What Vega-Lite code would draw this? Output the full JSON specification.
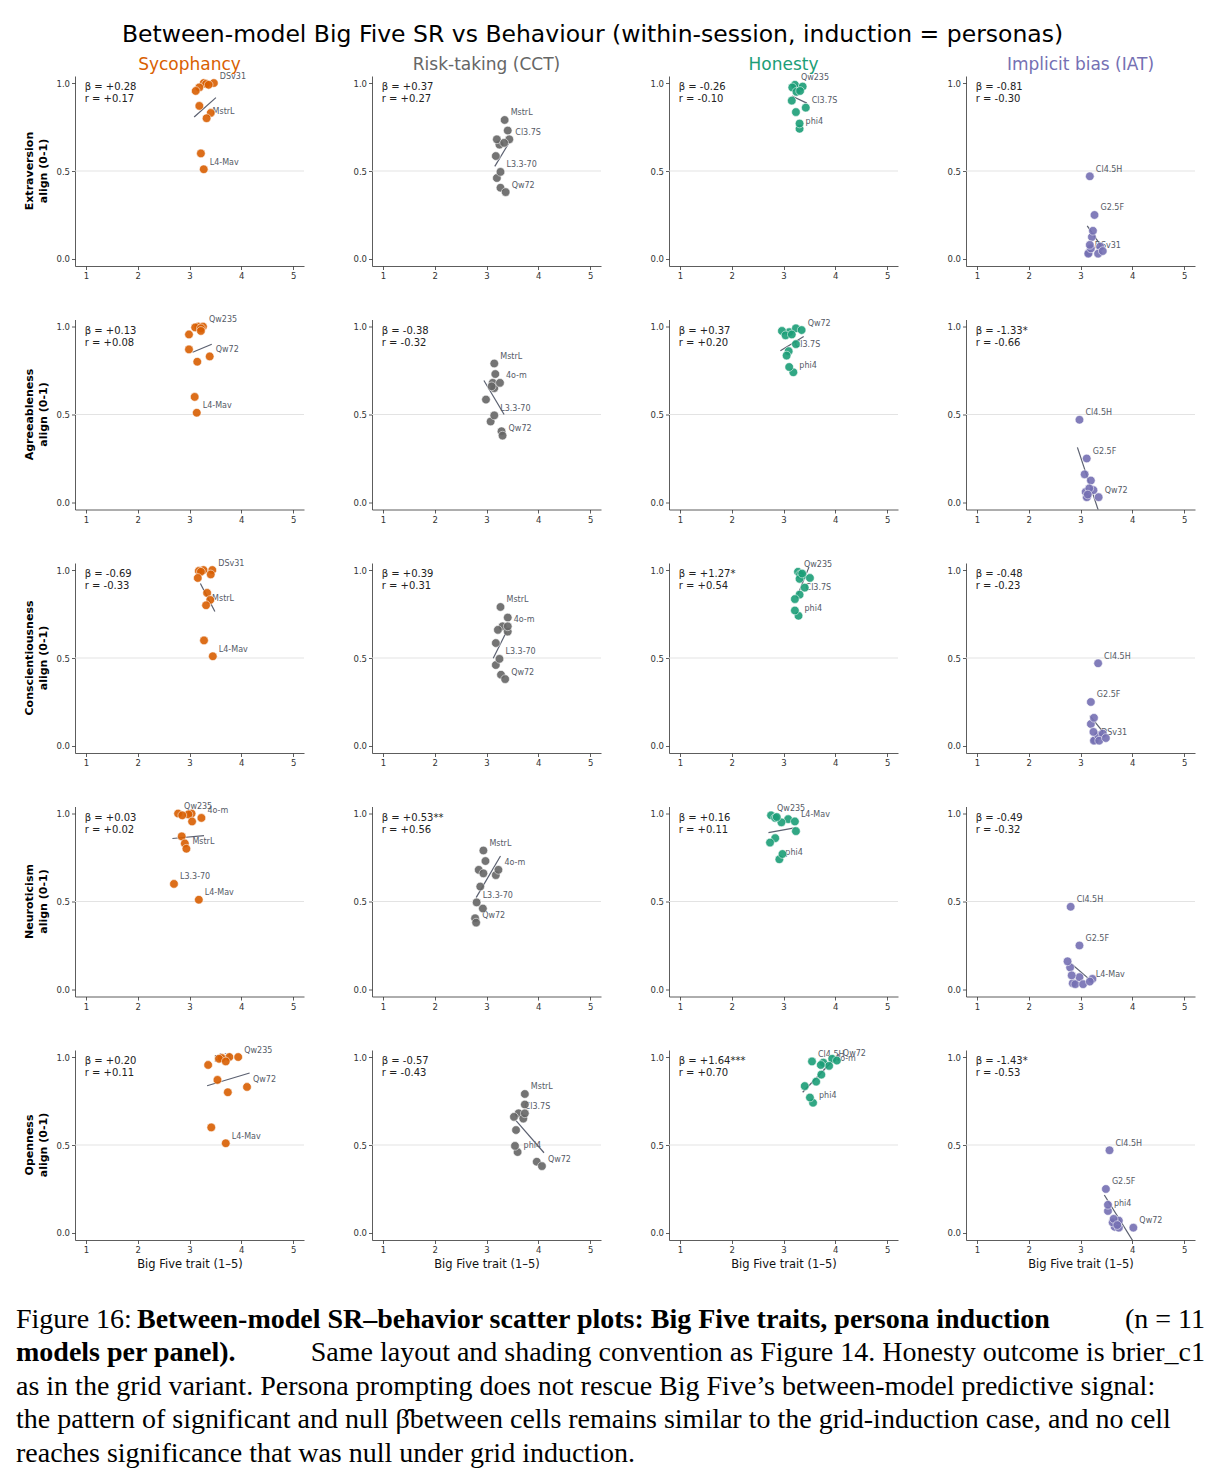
{
"$schema": "https://vega.github.io/schema/vega-lite/v6.json",
"background": "white",
"padding": {"left": 16, "top": 22, "right": 4, "bottom": 4},
"title": {"text": "Between-model Big Five SR vs Behaviour (within-session, induction = personas)", "fontSize": 23.5, "font": "DejaVu Sans", "fontWeight": "normal", "color": "#000000", "anchor": "middle", "dx": -18, "offset": 10},
"config": {
 "font": "DejaVu Sans",
 "view": {"stroke": null},
 "axis": {"domainColor": "#333333", "tickColor": "#333333", "labelColor": "#333333", "tickSize": 3.5, "labelFontSize": 8.5, "labelPadding": 2, "grid": false, "domainWidth": 0.8, "tickWidth": 0.8, "titleFontWeight": "normal", "titleFontSize": 11.5, "titleColor": "#111111", "titlePadding": 4, "labelFont": "DejaVu Sans", "titleFont": "DejaVu Sans"}
},
"spacing": 35.5,
"data": {"values": [
{"t":"Extraversion","o":"Sycophancy","k":"p","m":"DSv31","x":3.47,"y":1.0,"lab":"DSv31"},
{"t":"Extraversion","o":"Sycophancy","k":"p","m":"Qw235","x":3.275,"y":1.0,"lab":""},
{"t":"Extraversion","o":"Sycophancy","k":"p","m":"Cl3.7S","x":3.32,"y":0.995,"lab":""},
{"t":"Extraversion","o":"Sycophancy","k":"p","m":"Cl4.5H","x":3.37,"y":0.99,"lab":""},
{"t":"Extraversion","o":"Sycophancy","k":"p","m":"4o-m","x":3.19,"y":0.975,"lab":""},
{"t":"Extraversion","o":"Sycophancy","k":"p","m":"phi4","x":3.12,"y":0.955,"lab":""},
{"t":"Extraversion","o":"Sycophancy","k":"p","m":"G2.5F","x":3.19,"y":0.87,"lab":""},
{"t":"Extraversion","o":"Sycophancy","k":"p","m":"Qw72","x":3.41,"y":0.83,"lab":""},
{"t":"Extraversion","o":"Sycophancy","k":"p","m":"MstrL","x":3.33,"y":0.80,"lab":"MstrL"},
{"t":"Extraversion","o":"Sycophancy","k":"p","m":"L3.3-70","x":3.22,"y":0.60,"lab":""},
{"t":"Extraversion","o":"Sycophancy","k":"p","m":"L4-Mav","x":3.275,"y":0.51,"lab":"L4-Mav"},
{"t":"Extraversion","o":"Risk-taking (CCT)","k":"p","m":"DSv31","x":3.41,"y":0.73,"lab":""},
{"t":"Extraversion","o":"Risk-taking (CCT)","k":"p","m":"Qw235","x":3.27,"y":0.405,"lab":""},
{"t":"Extraversion","o":"Risk-taking (CCT)","k":"p","m":"Cl3.7S","x":3.44,"y":0.68,"lab":"Cl3.7S"},
{"t":"Extraversion","o":"Risk-taking (CCT)","k":"p","m":"Cl4.5H","x":3.25,"y":0.65,"lab":""},
{"t":"Extraversion","o":"Risk-taking (CCT)","k":"p","m":"4o-m","x":3.20,"y":0.68,"lab":""},
{"t":"Extraversion","o":"Risk-taking (CCT)","k":"p","m":"phi4","x":3.20,"y":0.46,"lab":""},
{"t":"Extraversion","o":"Risk-taking (CCT)","k":"p","m":"G2.5F","x":3.34,"y":0.66,"lab":""},
{"t":"Extraversion","o":"Risk-taking (CCT)","k":"p","m":"Qw72","x":3.37,"y":0.38,"lab":"Qw72"},
{"t":"Extraversion","o":"Risk-taking (CCT)","k":"p","m":"MstrL","x":3.35,"y":0.79,"lab":"MstrL"},
{"t":"Extraversion","o":"Risk-taking (CCT)","k":"p","m":"L3.3-70","x":3.27,"y":0.495,"lab":"L3.3-70"},
{"t":"Extraversion","o":"Risk-taking (CCT)","k":"p","m":"L4-Mav","x":3.18,"y":0.585,"lab":""},
{"t":"Extraversion","o":"Honesty","k":"p","m":"DSv31","x":3.29,"y":0.968,"lab":""},
{"t":"Extraversion","o":"Honesty","k":"p","m":"Qw235","x":3.22,"y":0.99,"lab":"Qw235"},
{"t":"Extraversion","o":"Honesty","k":"p","m":"Cl3.7S","x":3.43,"y":0.86,"lab":"Cl3.7S"},
{"t":"Extraversion","o":"Honesty","k":"p","m":"Cl4.5H","x":3.17,"y":0.975,"lab":""},
{"t":"Extraversion","o":"Honesty","k":"p","m":"4o-m","x":3.25,"y":0.95,"lab":""},
{"t":"Extraversion","o":"Honesty","k":"p","m":"phi4","x":3.31,"y":0.74,"lab":"phi4"},
{"t":"Extraversion","o":"Honesty","k":"p","m":"G2.5F","x":3.16,"y":0.90,"lab":""},
{"t":"Extraversion","o":"Honesty","k":"p","m":"Qw72","x":3.37,"y":0.98,"lab":""},
{"t":"Extraversion","o":"Honesty","k":"p","m":"MstrL","x":3.24,"y":0.835,"lab":""},
{"t":"Extraversion","o":"Honesty","k":"p","m":"L3.3-70","x":3.31,"y":0.77,"lab":""},
{"t":"Extraversion","o":"Honesty","k":"p","m":"L4-Mav","x":3.32,"y":0.955,"lab":""},
{"t":"Extraversion","o":"Implicit bias (IAT)","k":"p","m":"DSv31","x":3.16,"y":0.035,"lab":"DSv31"},
{"t":"Extraversion","o":"Implicit bias (IAT)","k":"p","m":"Qw235","x":3.15,"y":0.03,"lab":""},
{"t":"Extraversion","o":"Implicit bias (IAT)","k":"p","m":"Cl3.7S","x":3.20,"y":0.06,"lab":""},
{"t":"Extraversion","o":"Implicit bias (IAT)","k":"p","m":"Cl4.5H","x":3.18,"y":0.47,"lab":"Cl4.5H"},
{"t":"Extraversion","o":"Implicit bias (IAT)","k":"p","m":"4o-m","x":3.38,"y":0.07,"lab":""},
{"t":"Extraversion","o":"Implicit bias (IAT)","k":"p","m":"phi4","x":3.22,"y":0.125,"lab":""},
{"t":"Extraversion","o":"Implicit bias (IAT)","k":"p","m":"G2.5F","x":3.27,"y":0.25,"lab":"G2.5F"},
{"t":"Extraversion","o":"Implicit bias (IAT)","k":"p","m":"Qw72","x":3.34,"y":0.03,"lab":""},
{"t":"Extraversion","o":"Implicit bias (IAT)","k":"p","m":"MstrL","x":3.18,"y":0.08,"lab":""},
{"t":"Extraversion","o":"Implicit bias (IAT)","k":"p","m":"L3.3-70","x":3.24,"y":0.16,"lab":""},
{"t":"Extraversion","o":"Implicit bias (IAT)","k":"p","m":"L4-Mav","x":3.43,"y":0.045,"lab":""},

{"t":"Agreeableness","o":"Sycophancy","k":"p","m":"DSv31","x":3.17,"y":1.0,"lab":""},
{"t":"Agreeableness","o":"Sycophancy","k":"p","m":"Qw235","x":3.26,"y":1.0,"lab":"Qw235"},
{"t":"Agreeableness","o":"Sycophancy","k":"p","m":"Cl3.7S","x":3.11,"y":0.995,"lab":""},
{"t":"Agreeableness","o":"Sycophancy","k":"p","m":"Cl4.5H","x":3.22,"y":0.99,"lab":""},
{"t":"Agreeableness","o":"Sycophancy","k":"p","m":"4o-m","x":3.22,"y":0.975,"lab":""},
{"t":"Agreeableness","o":"Sycophancy","k":"p","m":"phi4","x":2.99,"y":0.955,"lab":""},
{"t":"Agreeableness","o":"Sycophancy","k":"p","m":"G2.5F","x":2.99,"y":0.87,"lab":""},
{"t":"Agreeableness","o":"Sycophancy","k":"p","m":"Qw72","x":3.39,"y":0.83,"lab":"Qw72"},
{"t":"Agreeableness","o":"Sycophancy","k":"p","m":"MstrL","x":3.15,"y":0.80,"lab":""},
{"t":"Agreeableness","o":"Sycophancy","k":"p","m":"L3.3-70","x":3.10,"y":0.60,"lab":""},
{"t":"Agreeableness","o":"Sycophancy","k":"p","m":"L4-Mav","x":3.14,"y":0.51,"lab":"L4-Mav"},
{"t":"Agreeableness","o":"Risk-taking (CCT)","k":"p","m":"DSv31","x":3.17,"y":0.73,"lab":""},
{"t":"Agreeableness","o":"Risk-taking (CCT)","k":"p","m":"Qw235","x":3.29,"y":0.405,"lab":""},
{"t":"Agreeableness","o":"Risk-taking (CCT)","k":"p","m":"Cl3.7S","x":3.12,"y":0.68,"lab":""},
{"t":"Agreeableness","o":"Risk-taking (CCT)","k":"p","m":"Cl4.5H","x":3.15,"y":0.65,"lab":""},
{"t":"Agreeableness","o":"Risk-taking (CCT)","k":"p","m":"4o-m","x":3.26,"y":0.68,"lab":"4o-m"},
{"t":"Agreeableness","o":"Risk-taking (CCT)","k":"p","m":"phi4","x":3.08,"y":0.46,"lab":""},
{"t":"Agreeableness","o":"Risk-taking (CCT)","k":"p","m":"G2.5F","x":3.10,"y":0.66,"lab":""},
{"t":"Agreeableness","o":"Risk-taking (CCT)","k":"p","m":"Qw72","x":3.31,"y":0.38,"lab":"Qw72"},
{"t":"Agreeableness","o":"Risk-taking (CCT)","k":"p","m":"MstrL","x":3.15,"y":0.79,"lab":"MstrL"},
{"t":"Agreeableness","o":"Risk-taking (CCT)","k":"p","m":"L3.3-70","x":3.15,"y":0.495,"lab":"L3.3-70"},
{"t":"Agreeableness","o":"Risk-taking (CCT)","k":"p","m":"L4-Mav","x":2.99,"y":0.585,"lab":""},
{"t":"Agreeableness","o":"Honesty","k":"p","m":"DSv31","x":3.11,"y":0.968,"lab":""},
{"t":"Agreeableness","o":"Honesty","k":"p","m":"Qw235","x":3.24,"y":0.99,"lab":""},
{"t":"Agreeableness","o":"Honesty","k":"p","m":"Cl3.7S","x":3.10,"y":0.86,"lab":"Cl3.7S"},
{"t":"Agreeableness","o":"Honesty","k":"p","m":"Cl4.5H","x":2.97,"y":0.975,"lab":""},
{"t":"Agreeableness","o":"Honesty","k":"p","m":"4o-m","x":3.04,"y":0.95,"lab":""},
{"t":"Agreeableness","o":"Honesty","k":"p","m":"phi4","x":3.19,"y":0.74,"lab":"phi4"},
{"t":"Agreeableness","o":"Honesty","k":"p","m":"G2.5F","x":3.24,"y":0.90,"lab":""},
{"t":"Agreeableness","o":"Honesty","k":"p","m":"Qw72","x":3.35,"y":0.98,"lab":"Qw72"},
{"t":"Agreeableness","o":"Honesty","k":"p","m":"MstrL","x":3.06,"y":0.835,"lab":""},
{"t":"Agreeableness","o":"Honesty","k":"p","m":"L3.3-70","x":3.11,"y":0.77,"lab":""},
{"t":"Agreeableness","o":"Honesty","k":"p","m":"L4-Mav","x":3.16,"y":0.955,"lab":""},
{"t":"Agreeableness","o":"Implicit bias (IAT)","k":"p","m":"DSv31","x":3.13,"y":0.035,"lab":""},
{"t":"Agreeableness","o":"Implicit bias (IAT)","k":"p","m":"Qw235","x":3.12,"y":0.03,"lab":""},
{"t":"Agreeableness","o":"Implicit bias (IAT)","k":"p","m":"Cl3.7S","x":3.10,"y":0.06,"lab":""},
{"t":"Agreeableness","o":"Implicit bias (IAT)","k":"p","m":"Cl4.5H","x":2.98,"y":0.47,"lab":"Cl4.5H"},
{"t":"Agreeableness","o":"Implicit bias (IAT)","k":"p","m":"4o-m","x":3.25,"y":0.07,"lab":""},
{"t":"Agreeableness","o":"Implicit bias (IAT)","k":"p","m":"phi4","x":3.20,"y":0.125,"lab":""},
{"t":"Agreeableness","o":"Implicit bias (IAT)","k":"p","m":"G2.5F","x":3.12,"y":0.25,"lab":"G2.5F"},
{"t":"Agreeableness","o":"Implicit bias (IAT)","k":"p","m":"Qw72","x":3.35,"y":0.03,"lab":"Qw72"},
{"t":"Agreeableness","o":"Implicit bias (IAT)","k":"p","m":"MstrL","x":3.17,"y":0.08,"lab":""},
{"t":"Agreeableness","o":"Implicit bias (IAT)","k":"p","m":"L3.3-70","x":3.08,"y":0.16,"lab":""},
{"t":"Agreeableness","o":"Implicit bias (IAT)","k":"p","m":"L4-Mav","x":3.14,"y":0.045,"lab":""},

{"t":"Conscientiousness","o":"Sycophancy","k":"p","m":"DSv31","x":3.44,"y":1.0,"lab":"DSv31"},
{"t":"Conscientiousness","o":"Sycophancy","k":"p","m":"Qw235","x":3.27,"y":1.0,"lab":""},
{"t":"Conscientiousness","o":"Sycophancy","k":"p","m":"Cl3.7S","x":3.18,"y":0.995,"lab":""},
{"t":"Conscientiousness","o":"Sycophancy","k":"p","m":"Cl4.5H","x":3.22,"y":0.99,"lab":""},
{"t":"Conscientiousness","o":"Sycophancy","k":"p","m":"4o-m","x":3.41,"y":0.975,"lab":""},
{"t":"Conscientiousness","o":"Sycophancy","k":"p","m":"phi4","x":3.16,"y":0.955,"lab":""},
{"t":"Conscientiousness","o":"Sycophancy","k":"p","m":"G2.5F","x":3.34,"y":0.87,"lab":""},
{"t":"Conscientiousness","o":"Sycophancy","k":"p","m":"Qw72","x":3.40,"y":0.83,"lab":""},
{"t":"Conscientiousness","o":"Sycophancy","k":"p","m":"MstrL","x":3.32,"y":0.80,"lab":"MstrL"},
{"t":"Conscientiousness","o":"Sycophancy","k":"p","m":"L3.3-70","x":3.28,"y":0.60,"lab":""},
{"t":"Conscientiousness","o":"Sycophancy","k":"p","m":"L4-Mav","x":3.45,"y":0.51,"lab":"L4-Mav"},
{"t":"Conscientiousness","o":"Risk-taking (CCT)","k":"p","m":"DSv31","x":3.41,"y":0.73,"lab":""},
{"t":"Conscientiousness","o":"Risk-taking (CCT)","k":"p","m":"Qw235","x":3.28,"y":0.405,"lab":""},
{"t":"Conscientiousness","o":"Risk-taking (CCT)","k":"p","m":"Cl3.7S","x":3.31,"y":0.68,"lab":""},
{"t":"Conscientiousness","o":"Risk-taking (CCT)","k":"p","m":"Cl4.5H","x":3.41,"y":0.65,"lab":""},
{"t":"Conscientiousness","o":"Risk-taking (CCT)","k":"p","m":"4o-m","x":3.41,"y":0.68,"lab":"4o-m"},
{"t":"Conscientiousness","o":"Risk-taking (CCT)","k":"p","m":"phi4","x":3.18,"y":0.46,"lab":""},
{"t":"Conscientiousness","o":"Risk-taking (CCT)","k":"p","m":"G2.5F","x":3.22,"y":0.66,"lab":""},
{"t":"Conscientiousness","o":"Risk-taking (CCT)","k":"p","m":"Qw72","x":3.36,"y":0.38,"lab":"Qw72"},
{"t":"Conscientiousness","o":"Risk-taking (CCT)","k":"p","m":"MstrL","x":3.27,"y":0.79,"lab":"MstrL"},
{"t":"Conscientiousness","o":"Risk-taking (CCT)","k":"p","m":"L3.3-70","x":3.25,"y":0.495,"lab":"L3.3-70"},
{"t":"Conscientiousness","o":"Risk-taking (CCT)","k":"p","m":"L4-Mav","x":3.18,"y":0.585,"lab":""},
{"t":"Conscientiousness","o":"Honesty","k":"p","m":"DSv31","x":3.37,"y":0.968,"lab":""},
{"t":"Conscientiousness","o":"Honesty","k":"p","m":"Qw235","x":3.28,"y":0.99,"lab":"Qw235"},
{"t":"Conscientiousness","o":"Honesty","k":"p","m":"Cl3.7S","x":3.31,"y":0.86,"lab":"Cl3.7S"},
{"t":"Conscientiousness","o":"Honesty","k":"p","m":"Cl4.5H","x":3.32,"y":0.975,"lab":""},
{"t":"Conscientiousness","o":"Honesty","k":"p","m":"4o-m","x":3.31,"y":0.95,"lab":""},
{"t":"Conscientiousness","o":"Honesty","k":"p","m":"phi4","x":3.29,"y":0.74,"lab":"phi4"},
{"t":"Conscientiousness","o":"Honesty","k":"p","m":"G2.5F","x":3.41,"y":0.90,"lab":""},
{"t":"Conscientiousness","o":"Honesty","k":"p","m":"Qw72","x":3.36,"y":0.98,"lab":""},
{"t":"Conscientiousness","o":"Honesty","k":"p","m":"MstrL","x":3.22,"y":0.835,"lab":""},
{"t":"Conscientiousness","o":"Honesty","k":"p","m":"L3.3-70","x":3.22,"y":0.77,"lab":""},
{"t":"Conscientiousness","o":"Honesty","k":"p","m":"L4-Mav","x":3.51,"y":0.955,"lab":""},
{"t":"Conscientiousness","o":"Implicit bias (IAT)","k":"p","m":"DSv31","x":3.28,"y":0.035,"lab":"DSv31"},
{"t":"Conscientiousness","o":"Implicit bias (IAT)","k":"p","m":"Qw235","x":3.26,"y":0.03,"lab":""},
{"t":"Conscientiousness","o":"Implicit bias (IAT)","k":"p","m":"Cl3.7S","x":3.34,"y":0.06,"lab":""},
{"t":"Conscientiousness","o":"Implicit bias (IAT)","k":"p","m":"Cl4.5H","x":3.34,"y":0.47,"lab":"Cl4.5H"},
{"t":"Conscientiousness","o":"Implicit bias (IAT)","k":"p","m":"4o-m","x":3.43,"y":0.07,"lab":""},
{"t":"Conscientiousness","o":"Implicit bias (IAT)","k":"p","m":"phi4","x":3.20,"y":0.125,"lab":""},
{"t":"Conscientiousness","o":"Implicit bias (IAT)","k":"p","m":"G2.5F","x":3.20,"y":0.25,"lab":"G2.5F"},
{"t":"Conscientiousness","o":"Implicit bias (IAT)","k":"p","m":"Qw72","x":3.36,"y":0.03,"lab":""},
{"t":"Conscientiousness","o":"Implicit bias (IAT)","k":"p","m":"MstrL","x":3.25,"y":0.08,"lab":""},
{"t":"Conscientiousness","o":"Implicit bias (IAT)","k":"p","m":"L3.3-70","x":3.26,"y":0.16,"lab":""},
{"t":"Conscientiousness","o":"Implicit bias (IAT)","k":"p","m":"L4-Mav","x":3.49,"y":0.045,"lab":""},

{"t":"Neuroticism","o":"Sycophancy","k":"p","m":"DSv31","x":3.04,"y":1.0,"lab":""},
{"t":"Neuroticism","o":"Sycophancy","k":"p","m":"Qw235","x":2.78,"y":1.0,"lab":"Qw235"},
{"t":"Neuroticism","o":"Sycophancy","k":"p","m":"Cl3.7S","x":2.98,"y":0.995,"lab":""},
{"t":"Neuroticism","o":"Sycophancy","k":"p","m":"Cl4.5H","x":2.86,"y":0.99,"lab":""},
{"t":"Neuroticism","o":"Sycophancy","k":"p","m":"4o-m","x":3.23,"y":0.975,"lab":"4o-m"},
{"t":"Neuroticism","o":"Sycophancy","k":"p","m":"phi4","x":3.05,"y":0.955,"lab":""},
{"t":"Neuroticism","o":"Sycophancy","k":"p","m":"G2.5F","x":2.85,"y":0.87,"lab":""},
{"t":"Neuroticism","o":"Sycophancy","k":"p","m":"Qw72","x":2.91,"y":0.83,"lab":""},
{"t":"Neuroticism","o":"Sycophancy","k":"p","m":"MstrL","x":2.94,"y":0.80,"lab":"MstrL"},
{"t":"Neuroticism","o":"Sycophancy","k":"p","m":"L3.3-70","x":2.70,"y":0.60,"lab":"L3.3-70"},
{"t":"Neuroticism","o":"Sycophancy","k":"p","m":"L4-Mav","x":3.18,"y":0.51,"lab":"L4-Mav"},
{"t":"Neuroticism","o":"Risk-taking (CCT)","k":"p","m":"DSv31","x":2.98,"y":0.73,"lab":""},
{"t":"Neuroticism","o":"Risk-taking (CCT)","k":"p","m":"Qw235","x":2.78,"y":0.405,"lab":""},
{"t":"Neuroticism","o":"Risk-taking (CCT)","k":"p","m":"Cl3.7S","x":2.85,"y":0.68,"lab":""},
{"t":"Neuroticism","o":"Risk-taking (CCT)","k":"p","m":"Cl4.5H","x":3.18,"y":0.65,"lab":""},
{"t":"Neuroticism","o":"Risk-taking (CCT)","k":"p","m":"4o-m","x":3.23,"y":0.68,"lab":"4o-m"},
{"t":"Neuroticism","o":"Risk-taking (CCT)","k":"p","m":"phi4","x":2.93,"y":0.46,"lab":""},
{"t":"Neuroticism","o":"Risk-taking (CCT)","k":"p","m":"G2.5F","x":2.94,"y":0.66,"lab":""},
{"t":"Neuroticism","o":"Risk-taking (CCT)","k":"p","m":"Qw72","x":2.80,"y":0.38,"lab":"Qw72"},
{"t":"Neuroticism","o":"Risk-taking (CCT)","k":"p","m":"MstrL","x":2.94,"y":0.79,"lab":"MstrL"},
{"t":"Neuroticism","o":"Risk-taking (CCT)","k":"p","m":"L3.3-70","x":2.81,"y":0.495,"lab":"L3.3-70"},
{"t":"Neuroticism","o":"Risk-taking (CCT)","k":"p","m":"L4-Mav","x":2.88,"y":0.585,"lab":""},
{"t":"Neuroticism","o":"Honesty","k":"p","m":"DSv31","x":3.09,"y":0.968,"lab":""},
{"t":"Neuroticism","o":"Honesty","k":"p","m":"Qw235","x":2.76,"y":0.99,"lab":"Qw235"},
{"t":"Neuroticism","o":"Honesty","k":"p","m":"Cl3.7S","x":2.84,"y":0.86,"lab":""},
{"t":"Neuroticism","o":"Honesty","k":"p","m":"Cl4.5H","x":2.84,"y":0.975,"lab":""},
{"t":"Neuroticism","o":"Honesty","k":"p","m":"4o-m","x":2.96,"y":0.95,"lab":""},
{"t":"Neuroticism","o":"Honesty","k":"p","m":"phi4","x":2.92,"y":0.74,"lab":"phi4"},
{"t":"Neuroticism","o":"Honesty","k":"p","m":"G2.5F","x":3.24,"y":0.90,"lab":""},
{"t":"Neuroticism","o":"Honesty","k":"p","m":"Qw72","x":2.87,"y":0.98,"lab":""},
{"t":"Neuroticism","o":"Honesty","k":"p","m":"MstrL","x":2.74,"y":0.835,"lab":""},
{"t":"Neuroticism","o":"Honesty","k":"p","m":"L3.3-70","x":2.98,"y":0.77,"lab":""},
{"t":"Neuroticism","o":"Honesty","k":"p","m":"L4-Mav","x":3.22,"y":0.955,"lab":"L4-Mav"},
{"t":"Neuroticism","o":"Implicit bias (IAT)","k":"p","m":"DSv31","x":2.85,"y":0.035,"lab":""},
{"t":"Neuroticism","o":"Implicit bias (IAT)","k":"p","m":"Qw235","x":2.90,"y":0.03,"lab":""},
{"t":"Neuroticism","o":"Implicit bias (IAT)","k":"p","m":"Cl3.7S","x":3.23,"y":0.06,"lab":""},
{"t":"Neuroticism","o":"Implicit bias (IAT)","k":"p","m":"Cl4.5H","x":2.81,"y":0.47,"lab":"Cl4.5H"},
{"t":"Neuroticism","o":"Implicit bias (IAT)","k":"p","m":"4o-m","x":2.98,"y":0.07,"lab":""},
{"t":"Neuroticism","o":"Implicit bias (IAT)","k":"p","m":"phi4","x":2.80,"y":0.125,"lab":""},
{"t":"Neuroticism","o":"Implicit bias (IAT)","k":"p","m":"G2.5F","x":2.98,"y":0.25,"lab":"G2.5F"},
{"t":"Neuroticism","o":"Implicit bias (IAT)","k":"p","m":"Qw72","x":3.05,"y":0.03,"lab":""},
{"t":"Neuroticism","o":"Implicit bias (IAT)","k":"p","m":"MstrL","x":2.83,"y":0.08,"lab":""},
{"t":"Neuroticism","o":"Implicit bias (IAT)","k":"p","m":"L3.3-70","x":2.75,"y":0.16,"lab":""},
{"t":"Neuroticism","o":"Implicit bias (IAT)","k":"p","m":"L4-Mav","x":3.18,"y":0.045,"lab":"L4-Mav"},

{"t":"Openness","o":"Sycophancy","k":"p","m":"DSv31","x":3.77,"y":1.0,"lab":""},
{"t":"Openness","o":"Sycophancy","k":"p","m":"Qw235","x":3.94,"y":1.0,"lab":"Qw235"},
{"t":"Openness","o":"Sycophancy","k":"p","m":"Cl3.7S","x":3.62,"y":0.995,"lab":""},
{"t":"Openness","o":"Sycophancy","k":"p","m":"Cl4.5H","x":3.57,"y":0.99,"lab":""},
{"t":"Openness","o":"Sycophancy","k":"p","m":"4o-m","x":3.70,"y":0.975,"lab":""},
{"t":"Openness","o":"Sycophancy","k":"p","m":"phi4","x":3.36,"y":0.955,"lab":"phi4"},
{"t":"Openness","o":"Sycophancy","k":"p","m":"G2.5F","x":3.54,"y":0.87,"lab":""},
{"t":"Openness","o":"Sycophancy","k":"p","m":"Qw72","x":4.11,"y":0.83,"lab":"Qw72"},
{"t":"Openness","o":"Sycophancy","k":"p","m":"MstrL","x":3.74,"y":0.80,"lab":""},
{"t":"Openness","o":"Sycophancy","k":"p","m":"L3.3-70","x":3.42,"y":0.60,"lab":""},
{"t":"Openness","o":"Sycophancy","k":"p","m":"L4-Mav","x":3.70,"y":0.51,"lab":"L4-Mav"},
{"t":"Openness","o":"Risk-taking (CCT)","k":"p","m":"DSv31","x":3.74,"y":0.73,"lab":""},
{"t":"Openness","o":"Risk-taking (CCT)","k":"p","m":"Qw235","x":3.97,"y":0.405,"lab":""},
{"t":"Openness","o":"Risk-taking (CCT)","k":"p","m":"Cl3.7S","x":3.62,"y":0.68,"lab":"Cl3.7S"},
{"t":"Openness","o":"Risk-taking (CCT)","k":"p","m":"Cl4.5H","x":3.71,"y":0.65,"lab":""},
{"t":"Openness","o":"Risk-taking (CCT)","k":"p","m":"4o-m","x":3.74,"y":0.68,"lab":""},
{"t":"Openness","o":"Risk-taking (CCT)","k":"p","m":"phi4","x":3.60,"y":0.46,"lab":"phi4"},
{"t":"Openness","o":"Risk-taking (CCT)","k":"p","m":"G2.5F","x":3.53,"y":0.66,"lab":""},
{"t":"Openness","o":"Risk-taking (CCT)","k":"p","m":"Qw72","x":4.07,"y":0.38,"lab":"Qw72"},
{"t":"Openness","o":"Risk-taking (CCT)","k":"p","m":"MstrL","x":3.74,"y":0.79,"lab":"MstrL"},
{"t":"Openness","o":"Risk-taking (CCT)","k":"p","m":"L3.3-70","x":3.55,"y":0.495,"lab":""},
{"t":"Openness","o":"Risk-taking (CCT)","k":"p","m":"L4-Mav","x":3.57,"y":0.585,"lab":""},
{"t":"Openness","o":"Honesty","k":"p","m":"DSv31","x":3.77,"y":0.968,"lab":""},
{"t":"Openness","o":"Honesty","k":"p","m":"Qw235","x":3.94,"y":0.99,"lab":""},
{"t":"Openness","o":"Honesty","k":"p","m":"Cl3.7S","x":3.63,"y":0.86,"lab":""},
{"t":"Openness","o":"Honesty","k":"p","m":"Cl4.5H","x":3.55,"y":0.975,"lab":"Cl4.5H"},
{"t":"Openness","o":"Honesty","k":"p","m":"4o-m","x":3.88,"y":0.95,"lab":"4o-m"},
{"t":"Openness","o":"Honesty","k":"p","m":"phi4","x":3.57,"y":0.74,"lab":"phi4"},
{"t":"Openness","o":"Honesty","k":"p","m":"G2.5F","x":3.73,"y":0.90,"lab":""},
{"t":"Openness","o":"Honesty","k":"p","m":"Qw72","x":4.03,"y":0.98,"lab":"Qw72"},
{"t":"Openness","o":"Honesty","k":"p","m":"MstrL","x":3.41,"y":0.835,"lab":""},
{"t":"Openness","o":"Honesty","k":"p","m":"L3.3-70","x":3.51,"y":0.77,"lab":""},
{"t":"Openness","o":"Honesty","k":"p","m":"L4-Mav","x":3.72,"y":0.955,"lab":""},
{"t":"Openness","o":"Implicit bias (IAT)","k":"p","m":"DSv31","x":3.66,"y":0.035,"lab":""},
{"t":"Openness","o":"Implicit bias (IAT)","k":"p","m":"Qw235","x":3.74,"y":0.03,"lab":""},
{"t":"Openness","o":"Implicit bias (IAT)","k":"p","m":"Cl3.7S","x":3.62,"y":0.06,"lab":""},
{"t":"Openness","o":"Implicit bias (IAT)","k":"p","m":"Cl4.5H","x":3.56,"y":0.47,"lab":"Cl4.5H"},
{"t":"Openness","o":"Implicit bias (IAT)","k":"p","m":"4o-m","x":3.74,"y":0.07,"lab":""},
{"t":"Openness","o":"Implicit bias (IAT)","k":"p","m":"phi4","x":3.53,"y":0.125,"lab":"phi4"},
{"t":"Openness","o":"Implicit bias (IAT)","k":"p","m":"G2.5F","x":3.49,"y":0.25,"lab":"G2.5F"},
{"t":"Openness","o":"Implicit bias (IAT)","k":"p","m":"Qw72","x":4.02,"y":0.03,"lab":"Qw72"},
{"t":"Openness","o":"Implicit bias (IAT)","k":"p","m":"MstrL","x":3.64,"y":0.08,"lab":""},
{"t":"Openness","o":"Implicit bias (IAT)","k":"p","m":"L3.3-70","x":3.53,"y":0.16,"lab":""},
{"t":"Openness","o":"Implicit bias (IAT)","k":"p","m":"L4-Mav","x":3.71,"y":0.045,"lab":""},

{"t":"Extraversion","o":"Sycophancy","k":"f","x":3.09,"y":0.807},
{"t":"Extraversion","o":"Sycophancy","k":"f","x":3.51,"y":0.917},
{"t":"Extraversion","o":"Risk-taking (CCT)","k":"f","x":3.16,"y":0.526},
{"t":"Extraversion","o":"Risk-taking (CCT)","k":"f","x":3.45,"y":0.668},
{"t":"Extraversion","o":"Honesty","k":"f","x":3.16,"y":0.926},
{"t":"Extraversion","o":"Honesty","k":"f","x":3.45,"y":0.886},
{"t":"Extraversion","o":"Implicit bias (IAT)","k":"f","x":3.13,"y":0.188},
{"t":"Extraversion","o":"Implicit bias (IAT)","k":"f","x":3.43,"y":0.06},
{"t":"Agreeableness","o":"Sycophancy","k":"f","x":3.06,"y":0.854},
{"t":"Agreeableness","o":"Sycophancy","k":"f","x":3.43,"y":0.899},
{"t":"Agreeableness","o":"Risk-taking (CCT)","k":"f","x":2.95,"y":0.693},
{"t":"Agreeableness","o":"Risk-taking (CCT)","k":"f","x":3.34,"y":0.50},
{"t":"Agreeableness","o":"Honesty","k":"f","x":2.94,"y":0.863},
{"t":"Agreeableness","o":"Honesty","k":"f","x":3.39,"y":0.943},
{"t":"Agreeableness","o":"Implicit bias (IAT)","k":"f","x":2.94,"y":0.313},
{"t":"Agreeableness","o":"Implicit bias (IAT)","k":"f","x":3.35,"y":-0.05},
{"t":"Conscientiousness","o":"Sycophancy","k":"f","x":3.21,"y":0.924},
{"t":"Conscientiousness","o":"Sycophancy","k":"f","x":3.49,"y":0.764},
{"t":"Conscientiousness","o":"Risk-taking (CCT)","k":"f","x":3.13,"y":0.499},
{"t":"Conscientiousness","o":"Risk-taking (CCT)","k":"f","x":3.38,"y":0.646},
{"t":"Conscientiousness","o":"Honesty","k":"f","x":3.28,"y":0.863},
{"t":"Conscientiousness","o":"Honesty","k":"f","x":3.49,"y":1.015},
{"t":"Conscientiousness","o":"Implicit bias (IAT)","k":"f","x":3.18,"y":0.173},
{"t":"Conscientiousness","o":"Implicit bias (IAT)","k":"f","x":3.43,"y":0.082},
{"t":"Neuroticism","o":"Sycophancy","k":"f","x":2.67,"y":0.858},
{"t":"Neuroticism","o":"Sycophancy","k":"f","x":3.28,"y":0.875},
{"t":"Neuroticism","o":"Risk-taking (CCT)","k":"f","x":2.80,"y":0.522},
{"t":"Neuroticism","o":"Risk-taking (CCT)","k":"f","x":3.27,"y":0.759},
{"t":"Neuroticism","o":"Honesty","k":"f","x":2.71,"y":0.892},
{"t":"Neuroticism","o":"Honesty","k":"f","x":3.24,"y":0.92},
{"t":"Neuroticism","o":"Implicit bias (IAT)","k":"f","x":2.80,"y":0.152},
{"t":"Neuroticism","o":"Implicit bias (IAT)","k":"f","x":3.14,"y":0.066},
{"t":"Openness","o":"Sycophancy","k":"f","x":3.34,"y":0.837},
{"t":"Openness","o":"Sycophancy","k":"f","x":4.16,"y":0.909},
{"t":"Openness","o":"Risk-taking (CCT)","k":"f","x":3.57,"y":0.639},
{"t":"Openness","o":"Risk-taking (CCT)","k":"f","x":4.11,"y":0.456},
{"t":"Openness","o":"Honesty","k":"f","x":3.37,"y":0.80},
{"t":"Openness","o":"Honesty","k":"f","x":4.05,"y":1.01},
{"t":"Openness","o":"Implicit bias (IAT)","k":"f","x":3.46,"y":0.216},
{"t":"Openness","o":"Implicit bias (IAT)","k":"f","x":4.02,"y":-0.05},

{"t":"Extraversion","o":"Sycophancy","k":"a","b":"β = +0.28","r":"r = +0.17"},
{"t":"Extraversion","o":"Risk-taking (CCT)","k":"a","b":"β = +0.37","r":"r = +0.27"},
{"t":"Extraversion","o":"Honesty","k":"a","b":"β = -0.26","r":"r = -0.10"},
{"t":"Extraversion","o":"Implicit bias (IAT)","k":"a","b":"β = -0.81","r":"r = -0.30"},
{"t":"Agreeableness","o":"Sycophancy","k":"a","b":"β = +0.13","r":"r = +0.08"},
{"t":"Agreeableness","o":"Risk-taking (CCT)","k":"a","b":"β = -0.38","r":"r = -0.32"},
{"t":"Agreeableness","o":"Honesty","k":"a","b":"β = +0.37","r":"r = +0.20"},
{"t":"Agreeableness","o":"Implicit bias (IAT)","k":"a","b":"β = -1.33*","r":"r = -0.66"},
{"t":"Conscientiousness","o":"Sycophancy","k":"a","b":"β = -0.69","r":"r = -0.33"},
{"t":"Conscientiousness","o":"Risk-taking (CCT)","k":"a","b":"β = +0.39","r":"r = +0.31"},
{"t":"Conscientiousness","o":"Honesty","k":"a","b":"β = +1.27*","r":"r = +0.54"},
{"t":"Conscientiousness","o":"Implicit bias (IAT)","k":"a","b":"β = -0.48","r":"r = -0.23"},
{"t":"Neuroticism","o":"Sycophancy","k":"a","b":"β = +0.03","r":"r = +0.02"},
{"t":"Neuroticism","o":"Risk-taking (CCT)","k":"a","b":"β = +0.53**","r":"r = +0.56"},
{"t":"Neuroticism","o":"Honesty","k":"a","b":"β = +0.16","r":"r = +0.11"},
{"t":"Neuroticism","o":"Implicit bias (IAT)","k":"a","b":"β = -0.49","r":"r = -0.32"},
{"t":"Openness","o":"Sycophancy","k":"a","b":"β = +0.20","r":"r = +0.11"},
{"t":"Openness","o":"Risk-taking (CCT)","k":"a","b":"β = -0.57","r":"r = -0.43"},
{"t":"Openness","o":"Honesty","k":"a","b":"β = +1.64***","r":"r = +0.70"},
{"t":"Openness","o":"Implicit bias (IAT)","k":"a","b":"β = -1.43*","r":"r = -0.53"}
]},
"vconcat": [
{
 "transform": [{"filter": "datum.t === 'Extraversion'"}],
 "facet": {
  "row": {"field": "t", "type": "nominal", "title": null, "header": {"labelAngle": -90, "labelOrient": "left", "labelFontWeight": "bold", "labelFontSize": 11, "labelExpr": "[datum.value, 'align (0-1)']", "labelPadding": 0, "labelLineHeight": 14, "labelColor": "#000000"}},
  "column": {"field": "o", "type": "nominal", "title": null, "sort": ["Sycophancy", "Risk-taking (CCT)", "Honesty", "Implicit bias (IAT)"], "header": {"labelFontSize": 17, "labelPadding": -2, "labelColor": {"expr": "parent['o'] === 'Sycophancy' ? '#d95f02' : parent['o'] === 'Honesty' ? '#1b9e77' : parent['o'] === 'Implicit bias (IAT)' ? '#7570b3' : '#666666'"}}}
 },
 "spacing": {"column": 47, "row": 10},
 "resolve": {"axis": {"x": "independent", "y": "independent"}},
 "spec": {"width": 229, "height": 190, "layer": [
  {"transform": [{"filter": "datum.k === 'a'"}], "mark": {"type": "rule", "color": "#e3e3e3", "strokeWidth": 1}, "encoding": {"y": {"datum": 0.5, "type": "quantitative", "scale": {"domain": [-0.04, 1.04], "nice": false, "zero": false}, "axis": {"values": [0, 0.5, 1], "format": ".1f", "title": null}}}},
  {"transform": [{"filter": "datum.k === 'p' && datum.lab !== ''"}], "mark": {"type": "text", "align": "left", "baseline": "middle", "dx": 6, "dy": -6.5, "fontSize": 8, "color": "#555a66"}, "encoding": {"x": {"field": "x", "type": "quantitative", "scale": {"domain": [0.79, 5.21], "nice": false, "zero": false}, "axis": {"values": [1, 2, 3, 4, 5], "format": "d", "title": null}}, "y": {"field": "y", "type": "quantitative", "scale": {"domain": [-0.04, 1.04], "nice": false, "zero": false}, "axis": {"values": [0, 0.5, 1], "format": ".1f", "title": null}}, "text": {"field": "lab"}}},
  {"transform": [{"filter": "datum.k === 'f'"}], "mark": {"type": "line", "color": "#5b6070", "strokeWidth": 1.2, "clip": true}, "encoding": {"x": {"field": "x", "type": "quantitative", "scale": {"domain": [0.79, 5.21], "nice": false, "zero": false}, "axis": {"values": [1, 2, 3, 4, 5], "format": "d", "title": null}}, "y": {"field": "y", "type": "quantitative", "scale": {"domain": [-0.04, 1.04], "nice": false, "zero": false}, "axis": {"values": [0, 0.5, 1], "format": ".1f", "title": null}}}},
  {"transform": [{"filter": "datum.k === 'p'"}], "mark": {"type": "circle", "size": 75, "opacity": 0.9, "stroke": "white", "strokeWidth": 0.6}, "encoding": {"x": {"field": "x", "type": "quantitative", "scale": {"domain": [0.79, 5.21], "nice": false, "zero": false}, "axis": {"values": [1, 2, 3, 4, 5], "format": "d", "title": null}}, "y": {"field": "y", "type": "quantitative", "scale": {"domain": [-0.04, 1.04], "nice": false, "zero": false}, "axis": {"values": [0, 0.5, 1], "format": ".1f", "title": null}}, "color": {"field": "o", "type": "nominal", "scale": {"domain": ["Sycophancy", "Risk-taking (CCT)", "Honesty", "Implicit bias (IAT)"], "range": ["#d95f02", "#666666", "#1b9e77", "#7570b3"]}, "legend": null}}},
  {"transform": [{"filter": "datum.k === 'a'"}], "mark": {"type": "text", "align": "left", "baseline": "middle", "fontSize": 10, "color": "#222222"}, "encoding": {"x": {"value": 9.7}, "y": {"value": 11}, "text": {"field": "b"}}},
  {"transform": [{"filter": "datum.k === 'a'"}], "mark": {"type": "text", "align": "left", "baseline": "middle", "fontSize": 10, "color": "#222222"}, "encoding": {"x": {"value": 9.7}, "y": {"value": 23.3}, "text": {"field": "r"}}}
 ]}
},
{
 "transform": [{"filter": "datum.t === 'Agreeableness'"}],
 "facet": {
  "row": {"field": "t", "type": "nominal", "title": null, "header": {"labelAngle": -90, "labelOrient": "left", "labelFontWeight": "bold", "labelFontSize": 11, "labelExpr": "[datum.value, 'align (0-1)']", "labelPadding": 0, "labelLineHeight": 14, "labelColor": "#000000"}},
  "column": {"field": "o", "type": "nominal", "title": null, "sort": ["Sycophancy", "Risk-taking (CCT)", "Honesty", "Implicit bias (IAT)"], "header": {"labels": false}}
 },
 "spacing": {"column": 47, "row": 10},
 "resolve": {"axis": {"x": "independent", "y": "independent"}},
 "spec": {"width": 229, "height": 190, "layer": [
  {"transform": [{"filter": "datum.k === 'a'"}], "mark": {"type": "rule", "color": "#e3e3e3", "strokeWidth": 1}, "encoding": {"y": {"datum": 0.5, "type": "quantitative", "scale": {"domain": [-0.04, 1.04], "nice": false, "zero": false}, "axis": {"values": [0, 0.5, 1], "format": ".1f", "title": null}}}},
  {"transform": [{"filter": "datum.k === 'p' && datum.lab !== ''"}], "mark": {"type": "text", "align": "left", "baseline": "middle", "dx": 6, "dy": -6.5, "fontSize": 8, "color": "#555a66"}, "encoding": {"x": {"field": "x", "type": "quantitative", "scale": {"domain": [0.79, 5.21], "nice": false, "zero": false}, "axis": {"values": [1, 2, 3, 4, 5], "format": "d", "title": null}}, "y": {"field": "y", "type": "quantitative", "scale": {"domain": [-0.04, 1.04], "nice": false, "zero": false}, "axis": {"values": [0, 0.5, 1], "format": ".1f", "title": null}}, "text": {"field": "lab"}}},
  {"transform": [{"filter": "datum.k === 'f'"}], "mark": {"type": "line", "color": "#5b6070", "strokeWidth": 1.2, "clip": true}, "encoding": {"x": {"field": "x", "type": "quantitative", "scale": {"domain": [0.79, 5.21], "nice": false, "zero": false}, "axis": {"values": [1, 2, 3, 4, 5], "format": "d", "title": null}}, "y": {"field": "y", "type": "quantitative", "scale": {"domain": [-0.04, 1.04], "nice": false, "zero": false}, "axis": {"values": [0, 0.5, 1], "format": ".1f", "title": null}}}},
  {"transform": [{"filter": "datum.k === 'p'"}], "mark": {"type": "circle", "size": 75, "opacity": 0.9, "stroke": "white", "strokeWidth": 0.6}, "encoding": {"x": {"field": "x", "type": "quantitative", "scale": {"domain": [0.79, 5.21], "nice": false, "zero": false}, "axis": {"values": [1, 2, 3, 4, 5], "format": "d", "title": null}}, "y": {"field": "y", "type": "quantitative", "scale": {"domain": [-0.04, 1.04], "nice": false, "zero": false}, "axis": {"values": [0, 0.5, 1], "format": ".1f", "title": null}}, "color": {"field": "o", "type": "nominal", "scale": {"domain": ["Sycophancy", "Risk-taking (CCT)", "Honesty", "Implicit bias (IAT)"], "range": ["#d95f02", "#666666", "#1b9e77", "#7570b3"]}, "legend": null}}},
  {"transform": [{"filter": "datum.k === 'a'"}], "mark": {"type": "text", "align": "left", "baseline": "middle", "fontSize": 10, "color": "#222222"}, "encoding": {"x": {"value": 9.7}, "y": {"value": 11}, "text": {"field": "b"}}},
  {"transform": [{"filter": "datum.k === 'a'"}], "mark": {"type": "text", "align": "left", "baseline": "middle", "fontSize": 10, "color": "#222222"}, "encoding": {"x": {"value": 9.7}, "y": {"value": 23.3}, "text": {"field": "r"}}}
 ]}
},
{
 "transform": [{"filter": "datum.t === 'Conscientiousness'"}],
 "facet": {
  "row": {"field": "t", "type": "nominal", "title": null, "header": {"labelAngle": -90, "labelOrient": "left", "labelFontWeight": "bold", "labelFontSize": 11, "labelExpr": "[datum.value, 'align (0-1)']", "labelPadding": 0, "labelLineHeight": 14, "labelColor": "#000000"}},
  "column": {"field": "o", "type": "nominal", "title": null, "sort": ["Sycophancy", "Risk-taking (CCT)", "Honesty", "Implicit bias (IAT)"], "header": {"labels": false}}
 },
 "spacing": {"column": 47, "row": 10},
 "resolve": {"axis": {"x": "independent", "y": "independent"}},
 "spec": {"width": 229, "height": 190, "layer": [
  {"transform": [{"filter": "datum.k === 'a'"}], "mark": {"type": "rule", "color": "#e3e3e3", "strokeWidth": 1}, "encoding": {"y": {"datum": 0.5, "type": "quantitative", "scale": {"domain": [-0.04, 1.04], "nice": false, "zero": false}, "axis": {"values": [0, 0.5, 1], "format": ".1f", "title": null}}}},
  {"transform": [{"filter": "datum.k === 'p' && datum.lab !== ''"}], "mark": {"type": "text", "align": "left", "baseline": "middle", "dx": 6, "dy": -6.5, "fontSize": 8, "color": "#555a66"}, "encoding": {"x": {"field": "x", "type": "quantitative", "scale": {"domain": [0.79, 5.21], "nice": false, "zero": false}, "axis": {"values": [1, 2, 3, 4, 5], "format": "d", "title": null}}, "y": {"field": "y", "type": "quantitative", "scale": {"domain": [-0.04, 1.04], "nice": false, "zero": false}, "axis": {"values": [0, 0.5, 1], "format": ".1f", "title": null}}, "text": {"field": "lab"}}},
  {"transform": [{"filter": "datum.k === 'f'"}], "mark": {"type": "line", "color": "#5b6070", "strokeWidth": 1.2, "clip": true}, "encoding": {"x": {"field": "x", "type": "quantitative", "scale": {"domain": [0.79, 5.21], "nice": false, "zero": false}, "axis": {"values": [1, 2, 3, 4, 5], "format": "d", "title": null}}, "y": {"field": "y", "type": "quantitative", "scale": {"domain": [-0.04, 1.04], "nice": false, "zero": false}, "axis": {"values": [0, 0.5, 1], "format": ".1f", "title": null}}}},
  {"transform": [{"filter": "datum.k === 'p'"}], "mark": {"type": "circle", "size": 75, "opacity": 0.9, "stroke": "white", "strokeWidth": 0.6}, "encoding": {"x": {"field": "x", "type": "quantitative", "scale": {"domain": [0.79, 5.21], "nice": false, "zero": false}, "axis": {"values": [1, 2, 3, 4, 5], "format": "d", "title": null}}, "y": {"field": "y", "type": "quantitative", "scale": {"domain": [-0.04, 1.04], "nice": false, "zero": false}, "axis": {"values": [0, 0.5, 1], "format": ".1f", "title": null}}, "color": {"field": "o", "type": "nominal", "scale": {"domain": ["Sycophancy", "Risk-taking (CCT)", "Honesty", "Implicit bias (IAT)"], "range": ["#d95f02", "#666666", "#1b9e77", "#7570b3"]}, "legend": null}}},
  {"transform": [{"filter": "datum.k === 'a'"}], "mark": {"type": "text", "align": "left", "baseline": "middle", "fontSize": 10, "color": "#222222"}, "encoding": {"x": {"value": 9.7}, "y": {"value": 11}, "text": {"field": "b"}}},
  {"transform": [{"filter": "datum.k === 'a'"}], "mark": {"type": "text", "align": "left", "baseline": "middle", "fontSize": 10, "color": "#222222"}, "encoding": {"x": {"value": 9.7}, "y": {"value": 23.3}, "text": {"field": "r"}}}
 ]}
},
{
 "transform": [{"filter": "datum.t === 'Neuroticism'"}],
 "facet": {
  "row": {"field": "t", "type": "nominal", "title": null, "header": {"labelAngle": -90, "labelOrient": "left", "labelFontWeight": "bold", "labelFontSize": 11, "labelExpr": "[datum.value, 'align (0-1)']", "labelPadding": 0, "labelLineHeight": 14, "labelColor": "#000000"}},
  "column": {"field": "o", "type": "nominal", "title": null, "sort": ["Sycophancy", "Risk-taking (CCT)", "Honesty", "Implicit bias (IAT)"], "header": {"labels": false}}
 },
 "spacing": {"column": 47, "row": 10},
 "resolve": {"axis": {"x": "independent", "y": "independent"}},
 "spec": {"width": 229, "height": 190, "layer": [
  {"transform": [{"filter": "datum.k === 'a'"}], "mark": {"type": "rule", "color": "#e3e3e3", "strokeWidth": 1}, "encoding": {"y": {"datum": 0.5, "type": "quantitative", "scale": {"domain": [-0.04, 1.04], "nice": false, "zero": false}, "axis": {"values": [0, 0.5, 1], "format": ".1f", "title": null}}}},
  {"transform": [{"filter": "datum.k === 'p' && datum.lab !== ''"}], "mark": {"type": "text", "align": "left", "baseline": "middle", "dx": 6, "dy": -6.5, "fontSize": 8, "color": "#555a66"}, "encoding": {"x": {"field": "x", "type": "quantitative", "scale": {"domain": [0.79, 5.21], "nice": false, "zero": false}, "axis": {"values": [1, 2, 3, 4, 5], "format": "d", "title": null}}, "y": {"field": "y", "type": "quantitative", "scale": {"domain": [-0.04, 1.04], "nice": false, "zero": false}, "axis": {"values": [0, 0.5, 1], "format": ".1f", "title": null}}, "text": {"field": "lab"}}},
  {"transform": [{"filter": "datum.k === 'f'"}], "mark": {"type": "line", "color": "#5b6070", "strokeWidth": 1.2, "clip": true}, "encoding": {"x": {"field": "x", "type": "quantitative", "scale": {"domain": [0.79, 5.21], "nice": false, "zero": false}, "axis": {"values": [1, 2, 3, 4, 5], "format": "d", "title": null}}, "y": {"field": "y", "type": "quantitative", "scale": {"domain": [-0.04, 1.04], "nice": false, "zero": false}, "axis": {"values": [0, 0.5, 1], "format": ".1f", "title": null}}}},
  {"transform": [{"filter": "datum.k === 'p'"}], "mark": {"type": "circle", "size": 75, "opacity": 0.9, "stroke": "white", "strokeWidth": 0.6}, "encoding": {"x": {"field": "x", "type": "quantitative", "scale": {"domain": [0.79, 5.21], "nice": false, "zero": false}, "axis": {"values": [1, 2, 3, 4, 5], "format": "d", "title": null}}, "y": {"field": "y", "type": "quantitative", "scale": {"domain": [-0.04, 1.04], "nice": false, "zero": false}, "axis": {"values": [0, 0.5, 1], "format": ".1f", "title": null}}, "color": {"field": "o", "type": "nominal", "scale": {"domain": ["Sycophancy", "Risk-taking (CCT)", "Honesty", "Implicit bias (IAT)"], "range": ["#d95f02", "#666666", "#1b9e77", "#7570b3"]}, "legend": null}}},
  {"transform": [{"filter": "datum.k === 'a'"}], "mark": {"type": "text", "align": "left", "baseline": "middle", "fontSize": 10, "color": "#222222"}, "encoding": {"x": {"value": 9.7}, "y": {"value": 11}, "text": {"field": "b"}}},
  {"transform": [{"filter": "datum.k === 'a'"}], "mark": {"type": "text", "align": "left", "baseline": "middle", "fontSize": 10, "color": "#222222"}, "encoding": {"x": {"value": 9.7}, "y": {"value": 23.3}, "text": {"field": "r"}}}
 ]}
},
{
 "transform": [{"filter": "datum.t === 'Openness'"}],
 "facet": {
  "row": {"field": "t", "type": "nominal", "title": null, "header": {"labelAngle": -90, "labelOrient": "left", "labelFontWeight": "bold", "labelFontSize": 11, "labelExpr": "[datum.value, 'align (0-1)']", "labelPadding": 0, "labelLineHeight": 14, "labelColor": "#000000"}},
  "column": {"field": "o", "type": "nominal", "title": null, "sort": ["Sycophancy", "Risk-taking (CCT)", "Honesty", "Implicit bias (IAT)"], "header": {"labels": false}}
 },
 "spacing": {"column": 47, "row": 10},
 "resolve": {"axis": {"x": "independent", "y": "independent"}},
 "spec": {"width": 229, "height": 190, "layer": [
  {"transform": [{"filter": "datum.k === 'a'"}], "mark": {"type": "rule", "color": "#e3e3e3", "strokeWidth": 1}, "encoding": {"y": {"datum": 0.5, "type": "quantitative", "scale": {"domain": [-0.04, 1.04], "nice": false, "zero": false}, "axis": {"values": [0, 0.5, 1], "format": ".1f", "title": null}}}},
  {"transform": [{"filter": "datum.k === 'p' && datum.lab !== ''"}], "mark": {"type": "text", "align": "left", "baseline": "middle", "dx": 6, "dy": -6.5, "fontSize": 8, "color": "#555a66"}, "encoding": {"x": {"field": "x", "type": "quantitative", "scale": {"domain": [0.79, 5.21], "nice": false, "zero": false}, "axis": {"values": [1, 2, 3, 4, 5], "format": "d", "title": "Big Five trait (1–5)"}}, "y": {"field": "y", "type": "quantitative", "scale": {"domain": [-0.04, 1.04], "nice": false, "zero": false}, "axis": {"values": [0, 0.5, 1], "format": ".1f", "title": null}}, "text": {"field": "lab"}}},
  {"transform": [{"filter": "datum.k === 'f'"}], "mark": {"type": "line", "color": "#5b6070", "strokeWidth": 1.2, "clip": true}, "encoding": {"x": {"field": "x", "type": "quantitative", "scale": {"domain": [0.79, 5.21], "nice": false, "zero": false}, "axis": {"values": [1, 2, 3, 4, 5], "format": "d", "title": "Big Five trait (1–5)"}}, "y": {"field": "y", "type": "quantitative", "scale": {"domain": [-0.04, 1.04], "nice": false, "zero": false}, "axis": {"values": [0, 0.5, 1], "format": ".1f", "title": null}}}},
  {"transform": [{"filter": "datum.k === 'p'"}], "mark": {"type": "circle", "size": 75, "opacity": 0.9, "stroke": "white", "strokeWidth": 0.6}, "encoding": {"x": {"field": "x", "type": "quantitative", "scale": {"domain": [0.79, 5.21], "nice": false, "zero": false}, "axis": {"values": [1, 2, 3, 4, 5], "format": "d", "title": "Big Five trait (1–5)"}}, "y": {"field": "y", "type": "quantitative", "scale": {"domain": [-0.04, 1.04], "nice": false, "zero": false}, "axis": {"values": [0, 0.5, 1], "format": ".1f", "title": null}}, "color": {"field": "o", "type": "nominal", "scale": {"domain": ["Sycophancy", "Risk-taking (CCT)", "Honesty", "Implicit bias (IAT)"], "range": ["#d95f02", "#666666", "#1b9e77", "#7570b3"]}, "legend": null}}},
  {"transform": [{"filter": "datum.k === 'a'"}], "mark": {"type": "text", "align": "left", "baseline": "middle", "fontSize": 10, "color": "#222222"}, "encoding": {"x": {"value": 9.7}, "y": {"value": 11}, "text": {"field": "b"}}},
  {"transform": [{"filter": "datum.k === 'a'"}], "mark": {"type": "text", "align": "left", "baseline": "middle", "fontSize": 10, "color": "#222222"}, "encoding": {"x": {"value": 9.7}, "y": {"value": 23.3}, "text": {"field": "r"}}}
 ]}
},
{
 "data": {"values": [
  {"line": 1, "part": "a", "text": "Figure 16:"},
  {"line": 1, "part": "b", "text": "Between-model SR–behavior scatter plots: Big Five traits, persona induction"},
  {"line": 1, "part": "c", "text": "(n = 11"},
  {"line": 2, "part": "d", "text": "models per panel)."},
  {"line": 2, "part": "c", "text": "Same layout and shading convention as Figure 14. Honesty outcome is brier_c1"},
  {"line": 3, "part": "a", "text": "as in the grid variant. Persona prompting does not rescue Big Five’s between-model predictive signal:"},
  {"line": 4, "part": "a", "text": "the pattern of significant and null β̂between cells remains similar to the grid-induction case, and no cell"},
  {"line": 5, "part": "a", "text": "reaches significance that was null under grid induction."}
 ]},
 "width": 1120,
 "height": 134,
 "layer": [
  {"transform": [{"filter": "datum.part === 'a'"}], "mark": {"type": "text", "align": "left", "baseline": "middle", "font": "Liberation Serif", "fontSize": 28, "color": "#000000"}, "encoding": {"x": {"value": -59}, "y": {"field": "line", "type": "ordinal", "axis": null, "scale": {"type": "point", "padding": 0}}, "text": {"field": "text"}}},
  {"transform": [{"filter": "datum.part === 'b'"}], "mark": {"type": "text", "align": "left", "baseline": "middle", "font": "Liberation Serif", "fontSize": 28, "fontWeight": "bold", "color": "#000000"}, "encoding": {"x": {"value": 62}, "y": {"field": "line", "type": "ordinal", "axis": null, "scale": {"type": "point", "padding": 0}}, "text": {"field": "text"}}},
  {"transform": [{"filter": "datum.part === 'c'"}], "mark": {"type": "text", "align": "right", "baseline": "middle", "font": "Liberation Serif", "fontSize": 28, "color": "#000000"}, "encoding": {"x": {"value": 1130}, "y": {"field": "line", "type": "ordinal", "axis": null, "scale": {"type": "point", "padding": 0}}, "text": {"field": "text"}}},
  {"transform": [{"filter": "datum.part === 'd'"}], "mark": {"type": "text", "align": "left", "baseline": "middle", "font": "Liberation Serif", "fontSize": 28, "fontWeight": "bold", "color": "#000000"}, "encoding": {"x": {"value": -59}, "y": {"field": "line", "type": "ordinal", "axis": null, "scale": {"type": "point", "padding": 0}}, "text": {"field": "text"}}}
 ]
}
]
}
